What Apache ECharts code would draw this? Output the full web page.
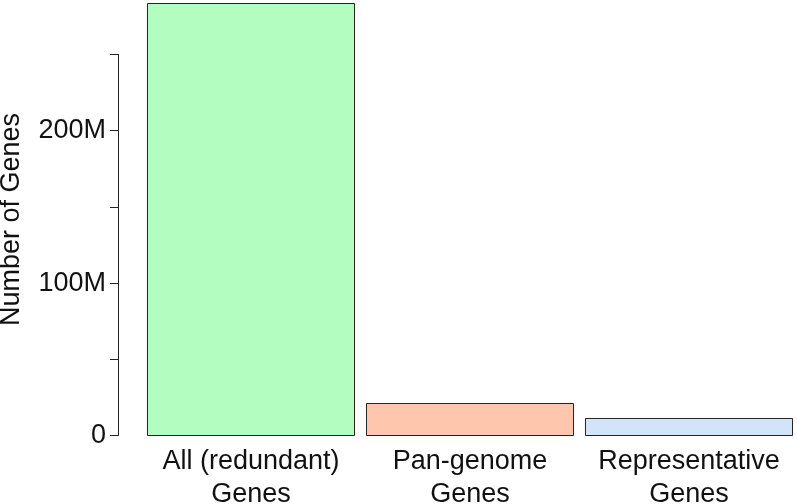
<!DOCTYPE html>
<html>
<head>
<meta charset="utf-8">
<script src="https://cdn.jsdelivr.net/npm/echarts@6/dist/echarts.min.js"></script>
<style>
html, body { margin: 0; padding: 0; background: #fff; }
#main { width: 797px; height: 504px; }
</style>
</head>
<body>
<div id="main"></div>
<script>
var categories = ['All (redundant)\nGenes', 'Pan-genome\nGenes', 'Representative\nGenes'];
var geneCounts = [283.5e6, 21.6e6, 11.8e6];
var barColors = ['#b4fdc0', '#fec7ad', '#d3e4f9'];
var tickValues = [0, 50e6, 100e6, 150e6, 200e6, 250e6];
var labelledTicks = [0, 100e6, 200e6];

var font = 'Liberation Sans, Arial, sans-serif';
var myChart = echarts.init(document.getElementById('main'));

var option = {
    backgroundColor: '#fff',
    animation: false,
    grid: [
        // bars
        { left: 141.5, top: 3, width: 657, height: 433, outerBoundsMode: 'none', containLabel: false },
        // detached y axis
        { left: 118, top: 54.5, width: 1, height: 381, outerBoundsMode: 'none', containLabel: false }
    ],
    xAxis: [
        {
            gridIndex: 0,
            type: 'category',
            data: categories,
            axisLine: { show: false },
            axisTick: { show: false },
            axisLabel: {
                interval: 0,
                hideOverlap: false,
                fontFamily: font, fontSize: 27, color: '#111',
                lineHeight: 33, margin: 9
            }
        },
        { gridIndex: 1, type: 'value', show: false }
    ],
    yAxis: [
        {
            gridIndex: 0,
            type: 'value',
            min: 0,
            max: geneCounts[0],
            axisLine: { show: false },
            axisTick: { show: false },
            axisLabel: { show: false },
            splitLine: { show: false },
            name: 'Number of Genes',
            nameLocation: 'middle',
            nameGap: 116,
            nameTextStyle: { fontFamily: font, fontSize: 27, color: '#111' }
        },
        {
            gridIndex: 1,
            type: 'value',
            min: 0,
            max: tickValues[tickValues.length - 1],
            interval: 50e6,
            axisLine: { show: true, lineStyle: { color: '#222', width: 1 } },
            axisTick: { show: true, length: 8, lineStyle: { color: '#222', width: 1 } },
            splitLine: { show: false },
            axisLabel: {
                fontFamily: font, fontSize: 27, color: '#111', margin: 12,
                formatter: function (v) {
                    if (labelledTicks.indexOf(v) < 0) return '';
                    return v === 0 ? '0' : (v / 1e6) + 'M';
                }
            }
        }
    ],
    series: [
        {
            type: 'bar',
            xAxisIndex: 0,
            yAxisIndex: 0,
            barWidth: '95%',
            data: geneCounts.map(function (v, i) {
                return { value: v, itemStyle: { color: barColors[i] } };
            }),
            itemStyle: { borderColor: '#222', borderWidth: 1 }
        }
    ]
};

myChart.setOption(option);
</script>
</body>
</html>
